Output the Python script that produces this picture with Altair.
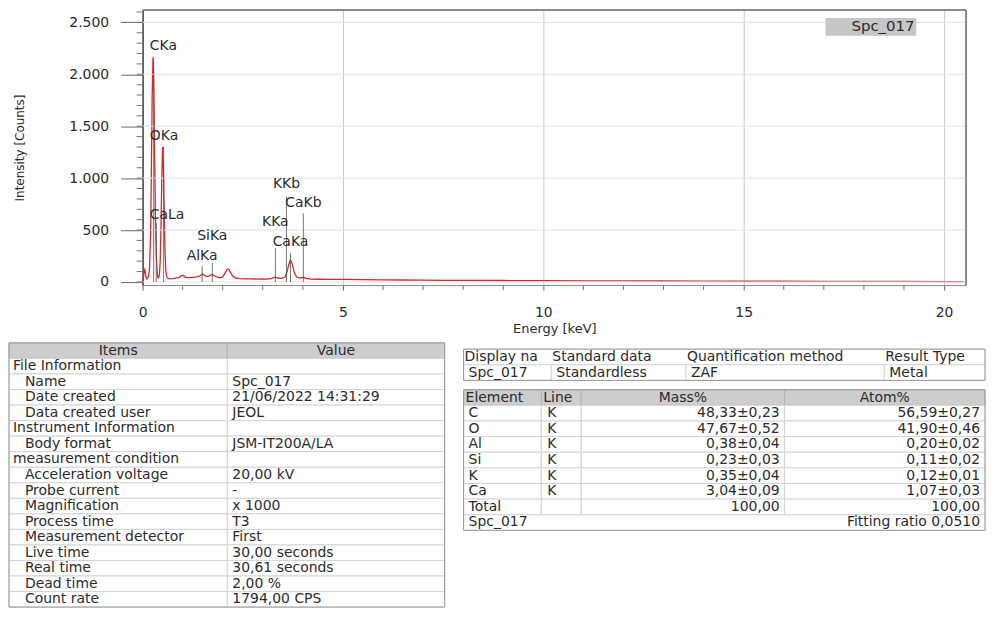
import altair as alt
import pandas as pd

FONT = "DejaVu Sans"
TXT = "#2b2b2b"
RED = "#d42a2a"

# ---------------- spectrum values ----------------
energy_kev = [0.00, 0.02, 0.05, 0.08, 0.11, 0.14, 0.17, 0.20, 0.22, 0.24,
              0.26, 0.28, 0.30, 0.32, 0.34, 0.36, 0.38, 0.40, 0.42, 0.44,
              0.46, 0.48, 0.50, 0.52, 0.54, 0.56, 0.58, 0.60, 0.63, 0.67,
              0.72, 0.78, 0.85, 0.92, 0.97, 1.02, 1.07, 1.15, 1.25, 1.35,
              1.42, 1.47, 1.50, 1.54, 1.60, 1.66, 1.72, 1.75, 1.79, 1.85,
              1.92, 2.00, 2.05, 2.10, 2.14, 2.19, 2.25, 2.32, 2.42, 2.55,
              2.70, 2.85, 3.00, 3.10, 3.20, 3.28, 3.32, 3.37, 3.45, 3.55,
              3.60, 3.65, 3.69, 3.73, 3.78, 3.84, 3.92, 3.98, 4.02, 4.08,
              4.20, 4.40, 4.70, 5.00, 5.50, 6.00, 6.50, 7.00, 7.50, 8.00,
              9.00, 10.00, 11.00, 12.00, 13.00, 14.00, 15.00, 16.00, 17.00, 18.00,
              19.00, 20.00, 20.50]
counts = [0, 40, 130, 60, 30, 45, 110, 450, 1100, 1800,
          2165, 1900, 1250, 650, 300, 110, 45, 40, 70, 200,
          550, 1000, 1303, 1100, 650, 280, 110, 55, 35, 30,
          32, 35, 40, 45, 60, 62, 45, 42, 45, 48,
          55, 70, 78, 65, 52, 55, 68, 72, 60, 48,
          40, 48, 80, 118, 125, 95, 55, 38, 32, 30,
          30, 28, 30, 28, 32, 42, 46, 38, 35, 45,
          90, 170, 212, 180, 100, 50, 38, 42, 45, 35,
          28, 26, 25, 24, 22, 20, 19, 18, 16, 15,
          14, 12, 11, 10, 9, 8, 7, 7, 6, 5,
          5, 4, 4]
spectrum_name = "Spc_017"

peak_names = ["CKa", "OKa", "CaLa", "AlKa", "SiKa", "KKa", "KKb", "CaKa", "CaKb"]
peak_energy = [0.277, 0.525, 0.341, 1.486, 1.740, 3.313, 3.590, 3.691, 4.012]
peak_marker_top = [2150, 1300, 565, 153, 182, 326, 824, 278, 661]
peak_label_y = [2270, 1408, 642, 249, 440, 575, 948, 383, 757]

x_ticks = [0, 5, 10, 15, 20]
x_minor = [1, 2, 3, 4, 6, 7, 8, 9, 11, 12, 13, 14, 16, 17, 18, 19]
y_ticks = [0, 500, 1000, 1500, 2000, 2500]
y_minor = list(range(0, 2601, 100))

# ---------------- table contents ----------------
info_header = ["Items", "Value"]
info_items = ["File Information", "Name", "Date created", "Data created user",
              "Instrument Information", "Body format", "measurement condition",
              "Acceleration voltage", "Probe current", "Magnification", "Process time",
              "Measurement detector", "Live time", "Real time", "Dead time", "Count rate"]
info_values = ["", "Spc_017", "21/06/2022 14:31:29", "JEOL", "", "JSM-IT200A/LA", "",
               "20,00 kV", "-", "x 1000", "T3", "First", "30,00 seconds",
               "30,61 seconds", "2,00 %", "1794,00 CPS"]
info_is_group = [True, False, False, False, True, False, True,
                 False, False, False, False, False, False, False, False, False]

top_headers = ["Display name", "Standard data", "Quantification method", "Result Type"]
top_values = ["Spc_017", "Standardless", "ZAF", "Metal"]
elem_headers = ["Element", "Line", "Mass%", "Atom%"]
elements = ["C", "O", "Al", "Si", "K", "Ca"]
elem_lines = ["K", "K", "K", "K", "K", "K"]
mass_pct = ["48,33±0,23", "47,67±0,52", "0,38±0,04", "0,23±0,03", "0,35±0,04", "3,04±0,09"]
atom_pct = ["56,59±0,27", "41,90±0,46", "0,20±0,02", "0,11±0,02", "0,12±0,01", "1,07±0,03"]
total_label = "Total"
total_mass = "100,00"
total_atom = "100,00"
footer_name = "Spc_017"
footer_fit = "Fitting ratio 0,0510"

# ---------------- layout ----------------
VIEW_W, PLOT_H = 960, 276
PLOT_LEFT = 134
X_DOMAIN = [0, 20.55]
Y_DOMAIN = [-30, 2620]
LABEL_CLAMP_KEV = 0.18

LT_COLS = [0, 219, 437]
LT_ROW_H = 15.6
RT_TOP_COLS = [0, 88, 223, 422, 523]
RT_EL_COLS = [0, 78, 118, 322, 523]
RT_ROWS = 12
RT_H = 188
TOP_START = 0.4
EL_START = 3.0

HEAD_FILL = "#cdcdcd"
HEAD_STROKE = "#b4b4b4"
INNER = "#d4d4d4"
OUTER = "#9a9a9a"
FRAME = "#666666"

# ---------------- spectrum chart ----------------
xs = alt.Scale(domain=X_DOMAIN, range=[PLOT_LEFT, VIEW_W], nice=False, zero=False)
ys = alt.Scale(domain=Y_DOMAIN, nice=False, zero=False)

spec_df = pd.DataFrame({"Energy": energy_kev, "Counts": counts, "Spectrum": spectrum_name})

line = alt.Chart(spec_df).mark_line(strokeWidth=1.3).encode(
    x=alt.X("Energy:Q", scale=xs, axis=alt.Axis(
        values=x_ticks, title="Energy [keV]", titleFont=FONT, titleFontSize=13,
        titleFontWeight="normal", titleColor=TXT, titlePadding=3,
        labelFont=FONT, labelFontSize=14, labelColor=TXT, labelPadding=16,
        labelFlush=False, tickSize=5, tickColor="#666", domainColor="#888",
        gridColor="#c9c9c9")),
    y=alt.Y("Counts:Q", scale=ys, axis=alt.Axis(
        values=y_ticks, labelExpr="replace(format(datum.value, ','), ',', '.')",
        title="Intensity [Counts]", titleFont=FONT, titleFontSize=12,
        titleFontWeight="normal", titleColor=TXT, titlePadding=42,
        labelFont=FONT, labelFontSize=14, labelColor=TXT, labelPadding=12,
        tickSize=22, tickColor="#666", domainColor="#444", domainWidth=1.5,
        grid=False, offset=-PLOT_LEFT)),
    color=alt.Color("Spectrum:N", scale=alt.Scale(range=[RED]), legend=alt.Legend(
        title=None, orient="none", legendX=819, legendY=8, fillColor="#c6c6c6",
        padding=1, symbolSize=0, symbolOpacity=0, symbolStrokeWidth=0,
        labelOffset=10, labelFont=FONT, labelFontSize=15, labelColor=TXT)),
)

# horizontal grid lines and the frame, drawn in data units
grid_df = pd.DataFrame({"Counts": y_ticks, "E0": X_DOMAIN[0], "E1": X_DOMAIN[1]})
hgrid = alt.Chart(grid_df).mark_rule(color="#e2e2e2", strokeWidth=1).encode(
    y=alt.Y("Counts:Q", scale=ys), x=alt.X("E0:Q", scale=xs), x2="E1:Q")
top_df = pd.DataFrame({"Counts": [Y_DOMAIN[1]], "E0": [X_DOMAIN[0]], "E1": [X_DOMAIN[1]]})
frame_top = alt.Chart(top_df).mark_rule(color=FRAME, strokeWidth=1.5).encode(
    y=alt.Y("Counts:Q", scale=ys), x=alt.X("E0:Q", scale=xs), x2="E1:Q")
right_df = pd.DataFrame({"Energy": [X_DOMAIN[1]], "C0": [Y_DOMAIN[0]], "C1": [Y_DOMAIN[1]]})
frame_right = alt.Chart(right_df).mark_rule(color=FRAME, strokeWidth=1.5).encode(
    x=alt.X("Energy:Q", scale=xs), y=alt.Y("C0:Q", scale=ys), y2="C1:Q")

peak_df = pd.DataFrame({"Energy": peak_energy, "Counts": peak_marker_top,
                        "Line": peak_names, "LabelY": peak_label_y})
peak_df["Base"] = 0
peak_df["LabelX"] = peak_df["Energy"].where(peak_df["Energy"] >= 1.0, LABEL_CLAMP_KEV)

markers = alt.Chart(peak_df).mark_rule(color="#555", strokeWidth=0.8).encode(
    x=alt.X("Energy:Q", scale=xs),
    y=alt.Y("Counts:Q", scale=ys),
    y2="Base:Q",
)

lab_df = pd.DataFrame({"Energy": peak_df["LabelX"], "Counts": peak_df["LabelY"],
                       "Line": peak_df["Line"], "Near": peak_df["Energy"] < 1.0})
labels_left = alt.Chart(lab_df[lab_df["Near"]]).mark_text(
    align="left", baseline="middle", font=FONT, fontSize=14, color=TXT).encode(
    x=alt.X("Energy:Q", scale=xs), y=alt.Y("Counts:Q", scale=ys), text="Line:N")
labels_center = alt.Chart(lab_df[~lab_df["Near"]]).mark_text(
    align="center", baseline="middle", font=FONT, fontSize=14, color=TXT).encode(
    x=alt.X("Energy:Q", scale=xs), y=alt.Y("Counts:Q", scale=ys), text="Line:N")

minor_y = alt.Chart(pd.DataFrame({"Counts": y_minor})).mark_rule(
    color="#777", strokeWidth=1).encode(
    y=alt.Y("Counts:Q", scale=ys), x=alt.value(PLOT_LEFT - 6), x2=alt.value(PLOT_LEFT))
minor_x = alt.Chart(pd.DataFrame({"Energy": x_minor})).mark_rule(
    color="#777", strokeWidth=1).encode(
    x=alt.X("Energy:Q", scale=xs), y=alt.value(PLOT_H), y2=alt.value(PLOT_H + 5))

spectrum = alt.layer(line, hgrid, markers, labels_left, labels_center,
                     minor_y, minor_x, frame_top, frame_right).properties(
    width=VIEW_W, height=PLOT_H)


# ---------------- tables ----------------
def cell(x0, x1, y0, y1, fill="white", stroke=INNER):
    return {"x0": x0, "x1": x1, "y0": y0, "y1": y1, "fill": fill, "stroke": stroke}


def label(x, y, text, align="left", limit=0):
    return {"tx": x, "ty": y, "text": text, "align": align, "limit": limit}


def table_chart(cells, texts, width, height, nrows):
    tx = alt.Scale(domain=[0, width], nice=False, zero=False)
    ty = alt.Scale(domain=[0, nrows], nice=False, zero=False, reverse=True)
    cdf = pd.DataFrame(cells)
    tdf = pd.DataFrame(texts)
    layers = [alt.Chart(cdf).mark_rect(strokeWidth=1).encode(
        x=alt.X("x0:Q", scale=tx, axis=None), x2="x1:Q",
        y=alt.Y("y0:Q", scale=ty, axis=None), y2="y1:Q",
        fill=alt.Fill("fill:N", scale=None),
        stroke=alt.Stroke("stroke:N", scale=None))]
    for (align, limit), sub in tdf.groupby(["align", "limit"]):
        kw = dict(align=align, baseline="middle", font=FONT, fontSize=14, color=TXT)
        if limit:
            kw.update(limit=float(limit), ellipsis="\u200b")
        layers.append(alt.Chart(sub).mark_text(**kw).encode(
            x=alt.X("tx:Q", scale=tx, axis=None),
            y=alt.Y("ty:Q", scale=ty, axis=None),
            text="text:N"))
    return alt.layer(*layers).properties(width=width, height=height)


# left table
lt_rows = len(info_items) + 1
lt_cells = [cell(LT_COLS[0], LT_COLS[1], 0, 1, HEAD_FILL, HEAD_STROKE),
            cell(LT_COLS[1], LT_COLS[2], 0, 1, HEAD_FILL, HEAD_STROKE)]
lt_text = [label((LT_COLS[0] + LT_COLS[1]) / 2, 0.5, info_header[0], "center"),
           label((LT_COLS[1] + LT_COLS[2]) / 2, 0.5, info_header[1], "center")]
for i, (item, val, grp) in enumerate(zip(info_items, info_values, info_is_group)):
    r = i + 1
    lt_cells += [cell(LT_COLS[0], LT_COLS[1], r, r + 1), cell(LT_COLS[1], LT_COLS[2], r, r + 1)]
    lt_text.append(label(LT_COLS[0] + (4 if grp else 16), r + 0.5, item))
    if val:
        lt_text.append(label(LT_COLS[1] + 5, r + 0.5, val))
lt_cells.append(cell(0, LT_COLS[-1], 0, lt_rows, "transparent", OUTER))
left_table = table_chart(lt_cells, lt_text, LT_COLS[-1], round(lt_rows * LT_ROW_H), lt_rows)

# right tables
RT_W = RT_TOP_COLS[-1]
t0 = TOP_START
rt_cells = [cell(0, RT_W, t0, t0 + 1, "white", INNER)]
rt_text = []
for j, h in enumerate(top_headers):
    lim = (RT_TOP_COLS[1] - RT_TOP_COLS[0] - 1) if j == 0 else 0
    rt_text.append(label(RT_TOP_COLS[j] + 1, t0 + 0.5, h, "left", lim))
for j, v in enumerate(top_values):
    rt_cells.append(cell(RT_TOP_COLS[j], RT_TOP_COLS[j + 1], t0 + 1, t0 + 2))
    rt_text.append(label(RT_TOP_COLS[j] + 5, t0 + 1.5, v))
rt_cells.append(cell(0, RT_W, t0, t0 + 2, "transparent", OUTER))

e0 = EL_START
for j, h in enumerate(elem_headers):
    rt_cells.append(cell(RT_EL_COLS[j], RT_EL_COLS[j + 1], e0, e0 + 1, HEAD_FILL, HEAD_STROKE))
    if j < 2:
        rt_text.append(label(RT_EL_COLS[j] + 2, e0 + 0.5, h))
    else:
        rt_text.append(label((RT_EL_COLS[j] + RT_EL_COLS[j + 1]) / 2, e0 + 0.5, h, "center"))
rows = list(zip(elements, elem_lines, mass_pct, atom_pct)) + [(total_label, "", total_mass, total_atom)]
for k, (el, ln, ms, at) in enumerate(rows):
    r = e0 + 1 + k
    for j in range(4):
        rt_cells.append(cell(RT_EL_COLS[j], RT_EL_COLS[j + 1], r, r + 1))
    rt_text.append(label(RT_EL_COLS[0] + 5, r + 0.5, el))
    if ln:
        rt_text.append(label(RT_EL_COLS[1] + 6, r + 0.5, ln))
    rt_text.append(label(RT_EL_COLS[3] - 5, r + 0.5, ms, "right"))
    rt_text.append(label(RT_EL_COLS[4] - 5, r + 0.5, at, "right"))
rf = e0 + 1 + len(rows)
rt_cells.append(cell(0, RT_W, rf, rf + 1))
rt_text.append(label(5, rf + 0.5, footer_name))
rt_text.append(label(RT_W - 5, rf + 0.5, footer_fit, "right"))
rt_cells.append(cell(0, RT_W, e0, rf + 1, "transparent", OUTER))
right_table = table_chart(rt_cells, rt_text, RT_W, RT_H, RT_ROWS)

tables = alt.hconcat(left_table, right_table, spacing=17)

chart = alt.vconcat(spectrum, tables, spacing=6).properties(
    padding=0).resolve_scale(color="independent").resolve_legend(
    color="independent").configure(font=FONT).configure_view(stroke=None)

chart.save("out.html", embed_options={"renderer": "svg", "actions": False})
